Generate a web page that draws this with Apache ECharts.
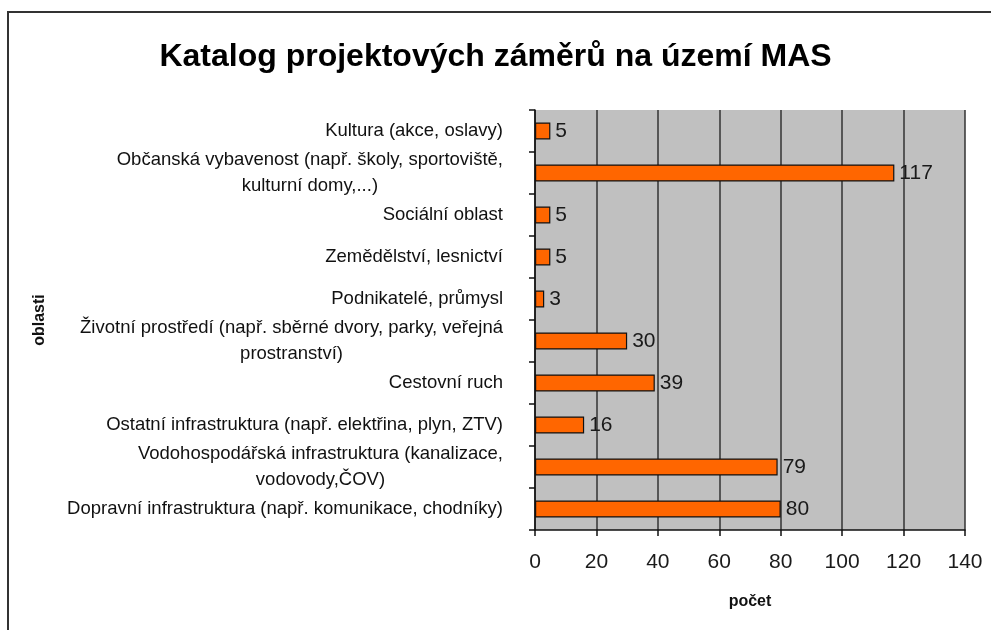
<!DOCTYPE html>
<html>
  <head>
    <meta http-equiv="Content-Type" content="text/html; charset=utf-8" />
    <title>Katalog projektových záměrů</title>
    <style type="text/css">
      html,body{margin:0;padding:0;background:#fff;}
      #chart1{width:991px;height:630px;}
    </style>
    <script type="text/javascript" src="https://cdn.jsdelivr.net/npm/echarts@6/dist/echarts.min.js"></script>
  </head>
  <body>
    <div id="chart1"></div>
  </body>
  <script type="text/javascript">
    // oblasti (shora dolů) a počty záměrů
    var oblasti = [
      'Kultura (akce, oslavy)',
      'Občanská vybavenost (např. školy, sportoviště,\nkulturní domy,...)',
      'Sociální oblast',
      'Zemědělství, lesnictví',
      'Podnikatelé, průmysl',
      'Životní prostředí (např. sběrné dvory, parky, veřejná\nprostranství)',
      'Cestovní ruch',
      'Ostatní infrastruktura (např. elektřina, plyn, ZTV)',
      'Vodohospodářská infrastruktura (kanalizace,\nvodovody,ČOV)',
      'Dopravní infrastruktura (např. komunikace, chodníky)'
    ];
    var pocty = [5, 117, 5, 5, 3, 30, 39, 16, 79, 80];
    var osaX = { min: 0, max: 140, interval: 20 };

    var font = 'Liberation Sans, Arial, sans-serif';
    var myChart = echarts.init(document.getElementById('chart1'));

    myChart.setOption({
      animation: false,
      textStyle: { fontFamily: font },
      title: {
        text: 'Katalog projektových záměrů na území MAS',
        left: 'center',
        top: 36,
        textStyle: { fontSize: 32, fontWeight: 'bold', color: '#000', fontFamily: font }
      },
      graphic: [{
        type: 'polyline',
        shape: { points: [[8, 640], [8, 12], [1000, 12]] },
        style: { stroke: '#333', lineWidth: 2, fill: null }
      }],
      grid: {
        left: 535, right: 26, top: 110, bottom: 100,
        show: true, backgroundColor: '#c0c0c0', borderWidth: 0
      },
      xAxis: {
        type: 'value',
        min: osaX.min, max: osaX.max, interval: osaX.interval,
        name: 'počet',
        nameLocation: 'middle',
        nameGap: 64,
        nameTextStyle: { fontSize: 16, fontWeight: 'bold', color: '#111', fontFamily: font },
        axisLine: { show: true, lineStyle: { color: '#111', width: 1.5 } },
        axisTick: { show: true, length: 6, lineStyle: { color: '#111', width: 1.5 } },
        axisLabel: { fontSize: 21, color: '#1a1a1a', margin: 22, fontFamily: font },
        splitLine: { show: true, lineStyle: { color: '#333', width: 1.5 } }
      },
      yAxis: {
        type: 'category',
        data: oblasti,
        inverse: true,
        name: 'oblasti',
        nameLocation: 'middle',
        nameRotate: 90,
        nameGap: 487,
        nameTextStyle: { fontSize: 16, fontWeight: 'bold', color: '#111', fontFamily: font },
        axisLine: { show: true, lineStyle: { color: '#111', width: 1.5 } },
        axisTick: { show: true, length: 6, lineStyle: { color: '#111', width: 1.5 } },
        axisLabel: {
          margin: 32,
          align: 'right',
          formatter: function (v) {
            return v.split('\n').map(function (s) { return '{c|' + s + '}'; }).join('\n');
          },
          rich: {
            c: { align: 'center', fontSize: 18.5, lineHeight: 26, color: '#111', fontFamily: font }
          }
        }
      },
      series: [{
        name: 'počet',
        type: 'bar',
        data: pocty,
        barWidth: 17,
        itemStyle: { color: '#ff6600', borderColor: '#111', borderWidth: 1.2 },
        label: {
          show: true,
          position: 'right',
          distance: 5,
          fontSize: 21,
          color: '#1a1a1a',
          fontFamily: font
        }
      }]
    });
  </script>
</html>
